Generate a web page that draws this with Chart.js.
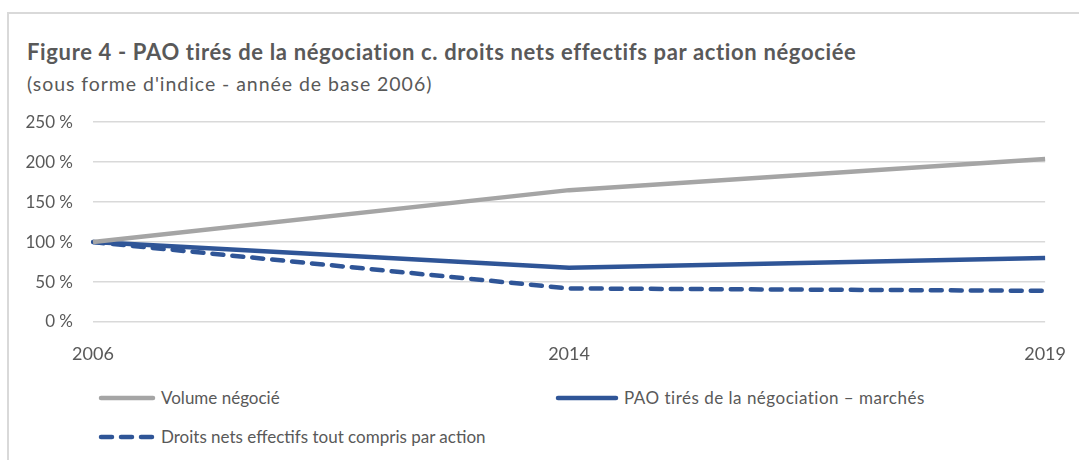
<!DOCTYPE html>
<html>
<head>
<meta charset="utf-8">
<script src="https://cdn.jsdelivr.net/npm/chart.js@4"></script>
<style>
  body { margin: 0; background: #fff; font-family: Lato, "Open Sans", sans-serif; color: #595959; }
  #cadre { position: absolute; left: 7px; top: 12px; width: 1080px; height: 460px;
           border-top: 2px solid #d9d9d9; border-left: 2px solid #d9d9d9; }
  #titre { position: absolute; left: 27px; top: 38px; font-size: 22px; letter-spacing: 0.65px; font-weight: bold; white-space: nowrap; }
  #sous-titre { position: absolute; left: 27px; top: 72px; font-size: 19.5px; letter-spacing: 0.95px; white-space: nowrap; }
  #zone { position: absolute; left: 0; top: 92px; }
  .leg { position: absolute; font-size: 17px; white-space: nowrap; display: flex; align-items: center; }
  .leg svg { margin-right: 5px; }
</style>
</head>
<body>
<div id="cadre"></div>
<div id="titre">Figure 4 - PAO tirés de la négociation c. droits nets effectifs par action négociée</div>
<div id="sous-titre">(sous forme d'indice - année de base 2006)</div>
<div id="zone"><canvas id="graf" width="1079" height="280"></canvas></div>

<div class="leg" style="left:98px; top:387px;">
  <svg width="58" height="8"><line x1="3" y1="4" x2="55" y2="4" stroke="#a5a5a5" stroke-width="4.5" stroke-linecap="round"/></svg>Volume négocié
</div>
<div class="leg" style="left:555px; top:387px; letter-spacing: 0.5px;">
  <svg width="64" height="8"><line x1="3" y1="4" x2="61" y2="4" stroke="#2f5597" stroke-width="4.5" stroke-linecap="round"/></svg>PAO tirés de la négociation – marchés
</div>
<div class="leg" style="left:98px; top:426px;">
  <svg width="58" height="8"><line x1="3" y1="4" x2="55" y2="4" stroke="#2f5597" stroke-width="4.5" stroke-linecap="round" stroke-dasharray="11 9"/></svg>Droits nets effectifs tout compris par action
</div>

<script>
// donnees (indice, base 2006 = 100 %)
const annees = ['2006', '2014', '2019'];
const volume = [100, 165, 204];
const paoMarches = [100, 68, 80];
const droitsNets = [100, 42, 39];
const ticksY = [0, 50, 100, 150, 200, 250];

const gris = '#a5a5a5';
const bleu = '#2f5597';

new Chart(document.getElementById('graf'), {
  type: 'line',
  data: {
    labels: annees,
    datasets: [
      { label: 'Volume négocié', data: volume, borderColor: gris, borderWidth: 4.5, pointRadius: 0, tension: 0 },
      { label: 'PAO tirés de la négociation – marchés', data: paoMarches, borderColor: bleu, borderWidth: 4.5, pointRadius: 0, tension: 0 },
      { label: 'Droits nets effectifs tout compris par action', data: droitsNets, borderColor: bleu, borderWidth: 4.5,
        borderDash: [11, 9], borderCapStyle: 'round', pointRadius: 0, tension: 0 }
    ]
  },
  options: {
    responsive: false,
    animation: false,
    layout: { padding: { top: 12, right: 17, bottom: 0, left: 0 } },
    plugins: { legend: { display: false }, tooltip: { enabled: false } },
    scales: {
      x: {
        offset: false,
        grid: { display: false },
        border: { display: false },
        ticks: { color: '#595959', font: { family: 'Lato', size: 18 }, maxRotation: 0, autoSkip: false, padding: 13 },
        afterFit: (s) => { s.height = 50; }
      },
      y: {
        min: 0, max: 250,
        afterBuildTicks: (s) => { s.ticks = ticksY.map(v => ({ value: v })); },
        grid: { color: '#d9d9d9', lineWidth: 1.5, drawTicks: false },
        border: { display: false },
        ticks: { color: '#595959', font: { family: 'Lato', size: 17 }, padding: 20, callback: (v) => v + ' %' },
        afterFit: (s) => { s.width = 93; }
      }
    }
  }
});
</script>
</body>
</html>
